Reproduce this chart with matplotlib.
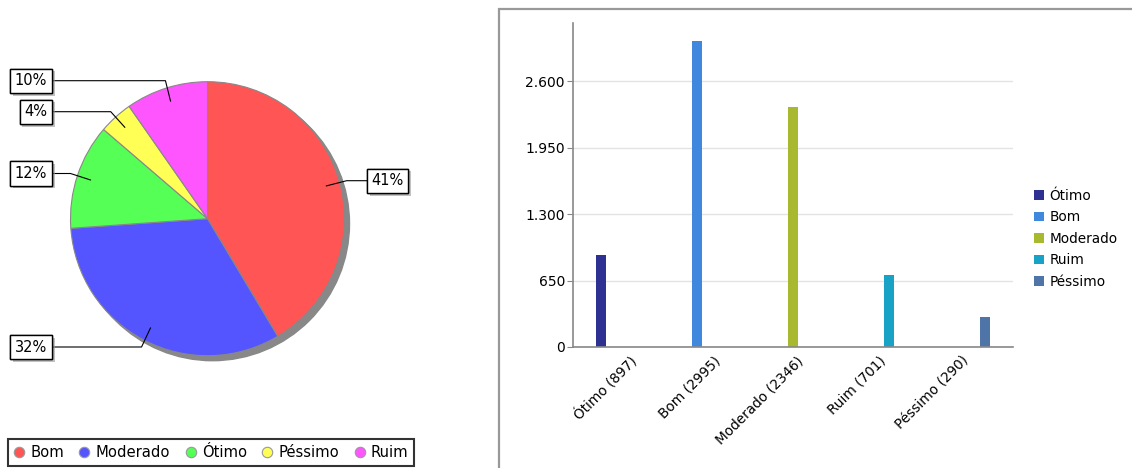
import numpy as np
import matplotlib
matplotlib.use("Agg")
import matplotlib.pyplot as plt
import matplotlib.patches as patches
import matplotlib.patheffects as pe
from matplotlib.lines import Line2D
from matplotlib.ticker import FuncFormatter

plt.rcParams["font.family"] = ["DejaVu Sans"]

# pie data (order of the pie / its legend)
pie_labels = ["Bom", "Moderado", "Ótimo", "Péssimo", "Ruim"]
pie_values = [2995, 2346, 897, 290, 701]
pie_colors = ["#FF5555", "#5555FF", "#55FF55", "#FFFF55", "#FF55FF"]

# bar data
bar_labels = ["Ótimo", "Bom", "Moderado", "Ruim", "Péssimo"]
bar_values = [897, 2995, 2346, 701, 290]
bar_colors = ["#2E3192", "#3F88DE", "#A8B92F", "#18A3C6", "#4F74A8"]
y_ticks = [0, 650, 1300, 1950, 2600]

W, H = 1132, 468
fig = plt.figure(figsize=(W / 100, H / 100), dpi=100)

# ---------- pie ----------
ax1 = fig.add_axes([0, 0, 500 / W, 1])
cx, cy, r = 207.5, H - 218.7, 137

shadow = patches.Circle((cx + 5, cy - 5), r, color="#888888", zorder=0.5)
ax1.add_patch(shadow)
wedges, _ = ax1.pie(pie_values, colors=pie_colors, startangle=90, counterclock=False,
                    center=(cx, cy), radius=r,
                    wedgeprops=dict(edgecolor="#888888", linewidth=0.8))
ax1.set_xlim(0, 500)
ax1.set_ylim(0, H)
ax1.set_aspect("equal")
ax1.axis("off")

# label layout: y of the box (pixels from top)
label_y = [180.7, 347, 173.5, 111.7, 80.7]
total = sum(pie_values)
for w, v, ly in zip(wedges, pie_values, label_y):
    mid = np.deg2rad((w.theta1 + w.theta2) / 2)
    ax_, ay_ = cx + 0.9 * r * np.cos(mid), cy + 0.9 * r * np.sin(mid)
    yy = H - ly
    dy = yy - cy
    re = 1.053 * r
    right = np.cos(mid) > 0
    ex = cx + np.sqrt(max(re ** 2 - dy ** 2, 0)) * (1 if right else -1)
    bx = 366.7 if right else 52
    ax1.plot([ax_, ex, bx], [ay_, yy, yy], color="black", lw=0.8, zorder=3)
    pct = "%d%%" % round(100 * v / total)
    t = ax1.text(bx + (4.8 if right else -4.8), yy, pct, fontsize=10.5,
                 ha="left" if right else "right", va="center", zorder=4,
                 bbox=dict(boxstyle="square,pad=0.32", fc="white", ec="black", lw=1))
    t.get_bbox_patch().set_path_effects(
        [pe.withSimplePatchShadow(offset=(2, -2), shadow_rgbFace="#999999", alpha=0.6),
         pe.Normal()])

handles = [Line2D([], [], marker="o", ls="", markersize=7.5, markerfacecolor=c,
                  markeredgecolor="#999999", markeredgewidth=0.8) for c in pie_colors]
leg1 = fig.legend(handles, pie_labels, ncol=5, loc="lower left",
                  bbox_to_anchor=(8 / W, 2 / H), borderaxespad=0, fontsize=10.6,
                  frameon=True, fancybox=False, edgecolor="black",
                  handlelength=0.7, handletextpad=0.4, columnspacing=1.05,
                  borderpad=0.4)
leg1.get_frame().set_linewidth(1.5)

# ---------- bar chart ----------
fig.add_artist(patches.Rectangle((499 / W, -0.1), 1, (H - 9) / H + 0.1,
                                 transform=fig.transFigure, fill=False,
                                 edgecolor="#999999", lw=1.6))

ax2 = fig.add_axes([573.3 / W, 1 - 347 / H, 440 / W, (347 - 23.3) / H])
n = len(bar_values)
slot = 8 / 88
for i, (lab, v, c) in enumerate(zip(bar_labels, bar_values, bar_colors)):
    ax2.bar(i + 0.5 + (i - 2) * slot, v, width=10 / 88, color=c, label=lab, zorder=2)

ax2.set_xlim(0, n)
ax2.set_ylim(0, 3164)
ax2.set_yticks(y_ticks)
ax2.yaxis.set_major_formatter(FuncFormatter(lambda v, p: f"{int(v):,}".replace(",", ".")))
ax2.grid(axis="y", color="#e3e3e3", lw=1, zorder=0)
ax2.set_axisbelow(True)
for s in ["top", "right"]:
    ax2.spines[s].set_visible(False)
for s in ["left", "bottom"]:
    ax2.spines[s].set_color("#888888")
    ax2.spines[s].set_linewidth(1.2)
ax2.tick_params(axis="y", length=4, color="#888888", labelsize=10, pad=2)
ax2.tick_params(axis="x", length=0, labelsize=9.8, pad=5)

tick_pos = [0.76 + 0.941 * i for i in range(n)]
ax2.set_xticks(tick_pos)
ax2.set_xticklabels([f"{lab} ({v})" for lab, v in zip(bar_labels, bar_values)],
                    rotation=45, ha="right")

leg2 = fig.legend(loc="upper left", bbox_to_anchor=(1034 / W, 1 - 189 / H),
                  frameon=False, fontsize=9.8, borderaxespad=0, borderpad=0,
                  handlelength=0.7, handleheight=0.7, handletextpad=0.45,
                  labelspacing=0.55)

fig.savefig("out.png", dpi=100)
